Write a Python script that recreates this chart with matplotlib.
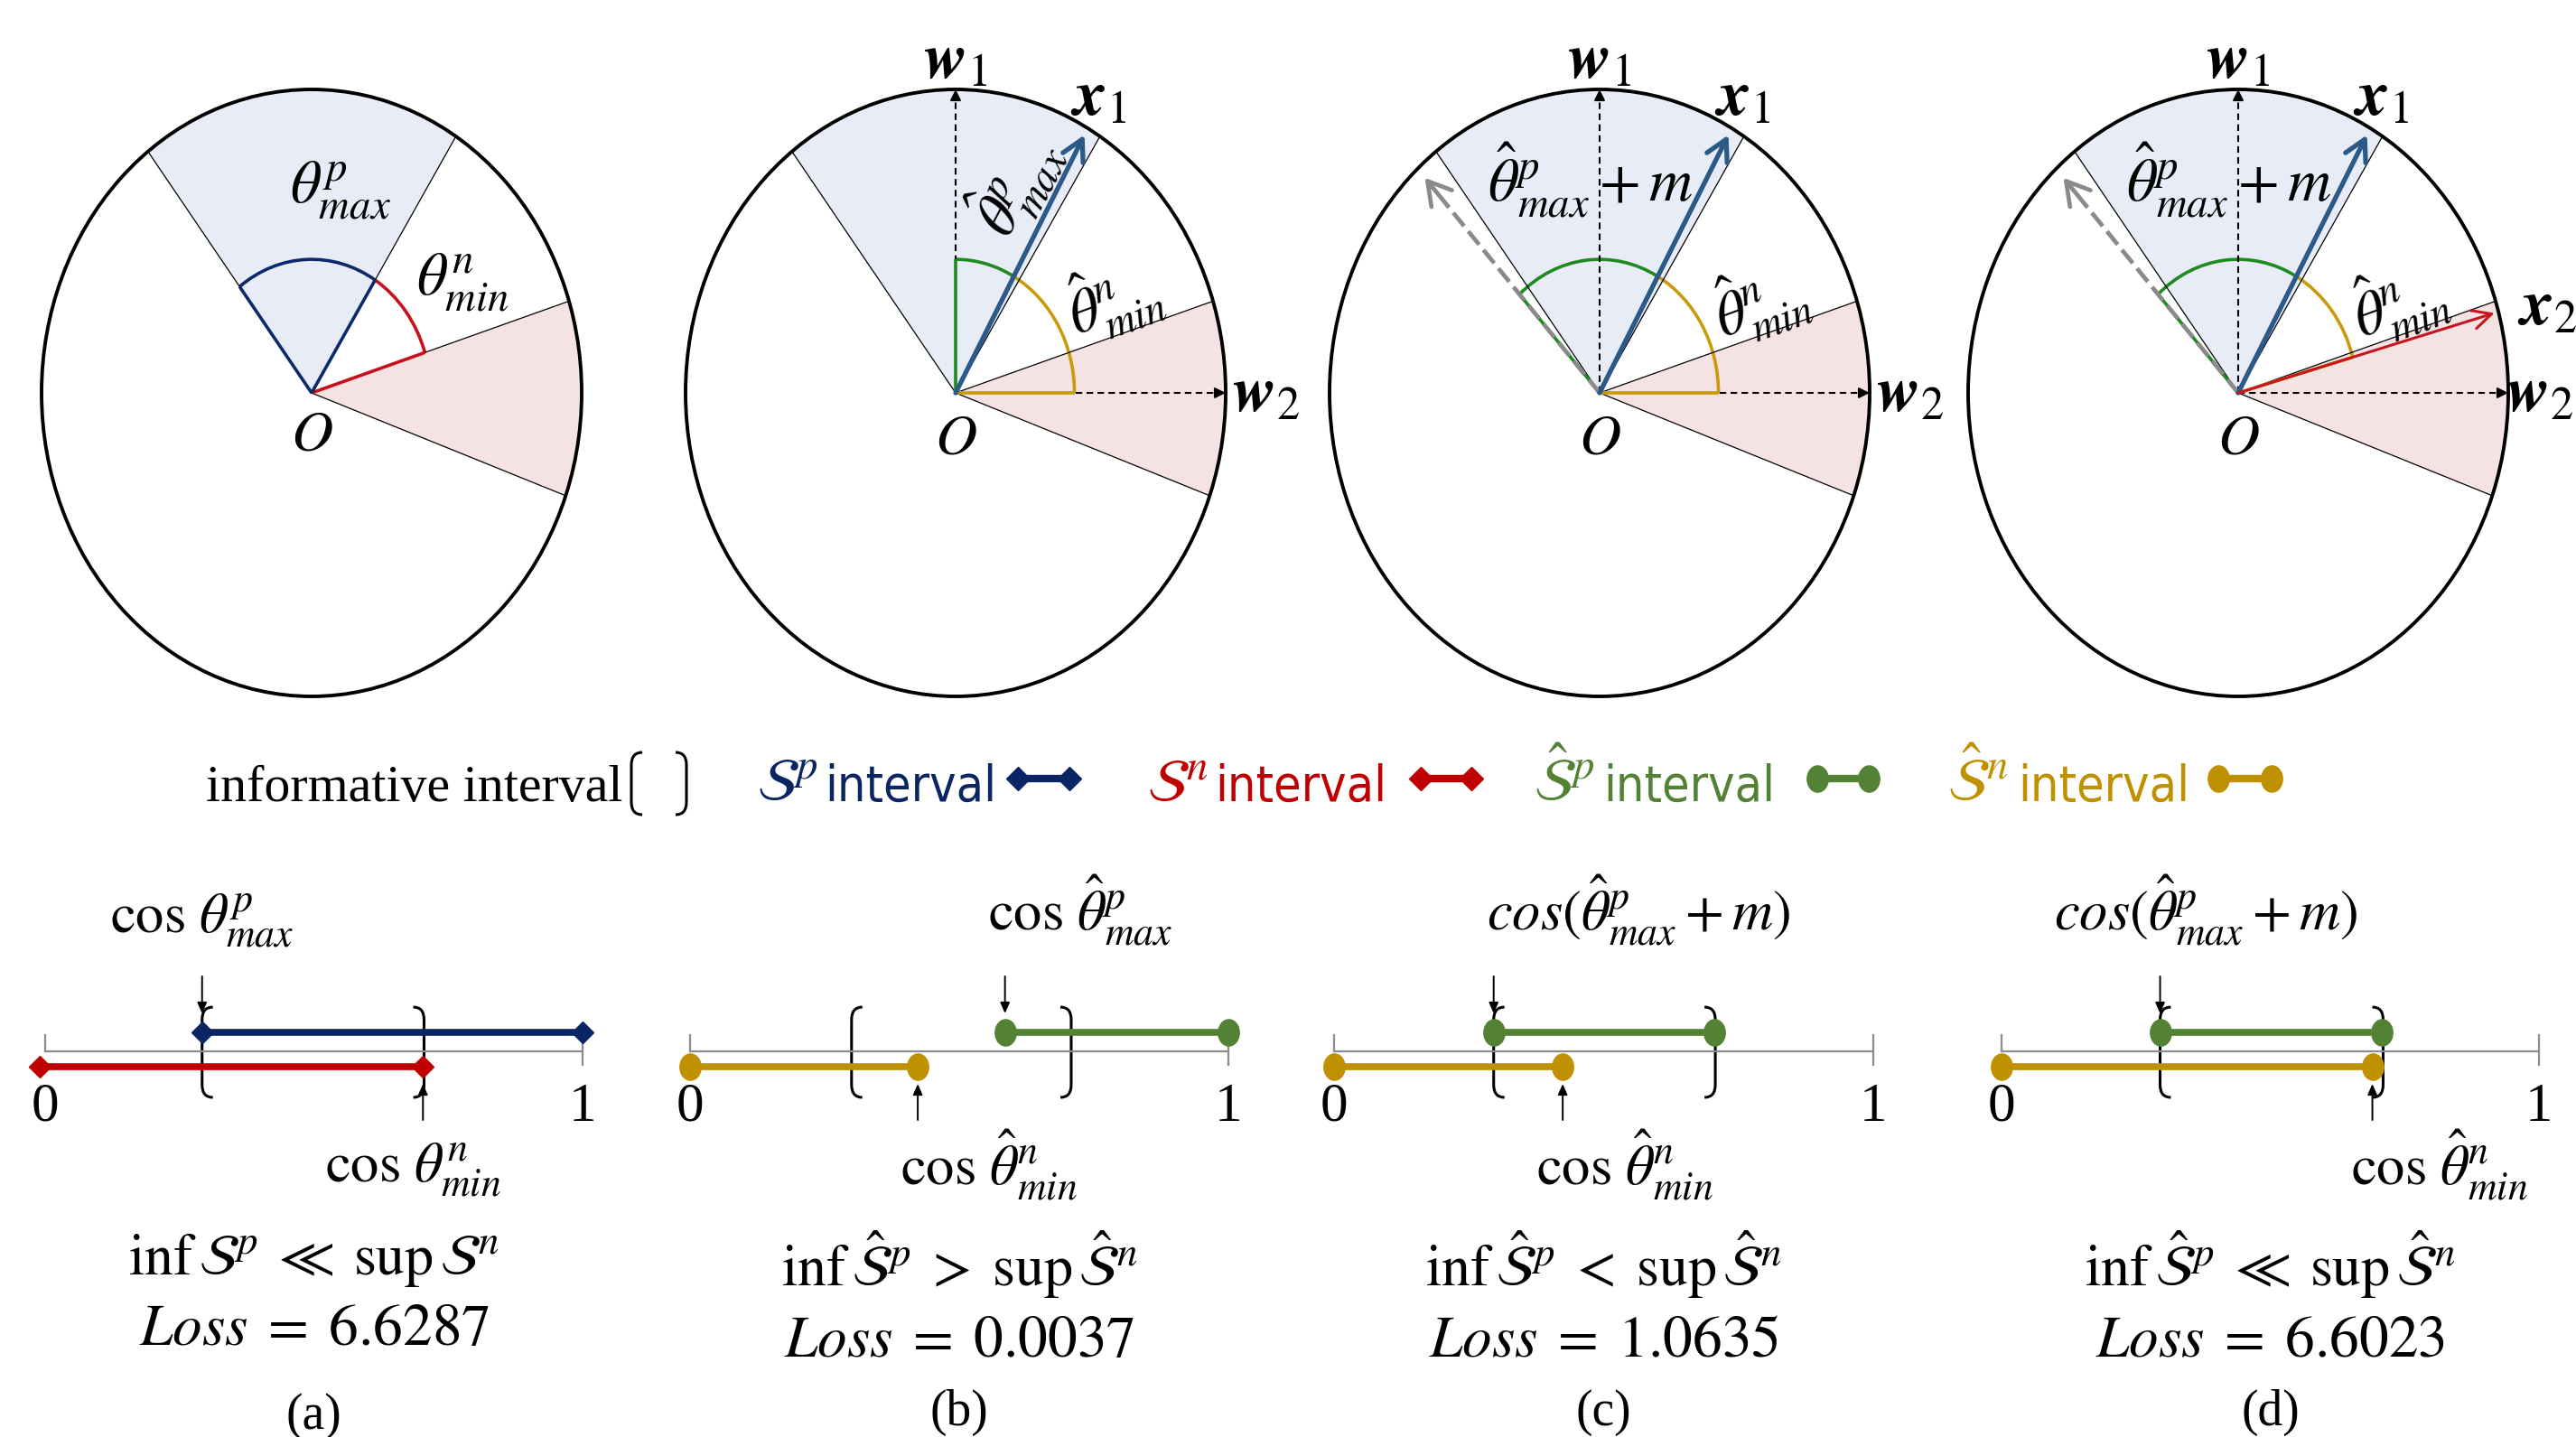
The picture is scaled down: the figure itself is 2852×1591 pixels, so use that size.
import os
import numpy as np
import matplotlib
matplotlib.use('Agg')
import matplotlib.pyplot as plt
from matplotlib import patches
from matplotlib import font_manager as fm
from matplotlib.path import Path
from matplotlib.transforms import Affine2D
from matplotlib.mathtext import MathTextParser

plt.rcParams['mathtext.fontset'] = 'stix'
plt.rcParams['font.family'] = ['Liberation Serif', 'DejaVu Serif']

W, H, DPI = 2852, 1591, 100

# colours
NAVY, RED, GREEN, GOLD = '#0B2463', '#C00000', '#548235', '#BF9000'
ARC_NAVY, ARC_RED, ARC_GREEN, ARC_GOLD = '#0B2A6A', '#C8101A', '#1F8A1F', '#C99A0A'
X1_BLUE, X2_RED, GRAY = '#2B5A88', '#C8141E', '#8A8A8A'
FILL_POS, FILL_NEG = '#E8ECF7', '#F5E3E3'
AXIS_GRAY = '#8C8C8C'
SERIF = ['Liberation Serif', 'DejaVu Serif']

# ---------------- data ----------------
panel_tags = ['(a)', '(b)', '(c)', '(d)']

# directions on the unit hypersphere (degrees)
pos_sector = (57.7, 127.3)      # positive-similarity region
neg_sector = (-19.8, 17.6)      # negative-similarity region
w1_angle, w2_angle = 90.0, 0.0
x1_angle = 60.7
x2_angle = 15.5
margin_angle = 132.4            # theta_max + m direction
show_vectors = [False, True, True, True]
show_margin = [False, False, True, True]
show_x2 = [False, False, False, True]

# similarity intervals on [0, 1]
pos_lo = [0.292, 0.585, 0.296, 0.295]
pos_hi = [1.0, 1.0, 0.706, 0.708]
neg_lo = [-0.01, 0.0, 0.0, 0.0]
neg_hi = [0.703, 0.423, 0.424, 0.690]
info_lo = [0.292, 0.300, 0.296, 0.295]
info_hi = [0.705, 0.708, 0.707, 0.710]
losses = [6.6287, 0.0037, 1.0635, 6.6023]
relations = [r'\ll', '>', '<', r'\ll']
axis_ticks = [0, 1]

legend_symbols = [r'$\mathcal{S}^{p}$', r'$\mathcal{S}^{n}$',
                  r'$\hat{\mathcal{S}}^{p}$', r'$\hat{\mathcal{S}}^{n}$']
legend_colors = [NAVY, RED, GREEN, GOLD]

# ---------------- layout (pixels) ----------------
circle_cx = [345, 1058, 1771, 2478]
circle_cy = 435
RX, RY = 299, 336
R_ARC = 0.44

line_left = [50, 764, 1477, 2216]
line_right = [645, 1360, 2074, 2811]
line_y = 1164
above_x = [0.292, 0.725, 0.565, 0.38]
above_y = [131, 134, 134, 134]
below_x = [0.685, 0.555, 0.54, 0.815]
below_y = [-145, -148, -148, -148]
rel_y = [-247, -260, -260, -260]
loss_y = [-325, -338, -338, -338]
tag_y = [-404, -400, -400, -400]


def _bold_italic_cmd():
    try:
        MathTextParser('path').parse(r'$\mathbfit{w}$')
        return r'\mathbfit'
    except Exception:
        return r'\mathbf'


def _narrow_sans():
    choices = [('Liberation Sans Narrow', 'normal'), ('DejaVu Sans', 'condensed'),
               ('Roboto Condensed', 'normal'), ('Open Sans', 'condensed')]
    for fam, stretch in choices:
        try:
            path = fm.findfont(fm.FontProperties(family=fam, stretch=stretch),
                               fallback_to_default=False)
        except Exception:
            continue
        name = os.path.basename(path).lower()
        if stretch == 'normal' or 'condensed' in name or 'narrow' in name:
            return dict(family=fam, fontstretch=stretch)
    return dict(family=['Roboto', 'DejaVu Sans'])


BFIT = _bold_italic_cmd()
NARROW_FONT = _narrow_sans()

fig = plt.figure(figsize=(W / DPI, H / DPI), dpi=DPI, facecolor='white')
renderer = fig.canvas.get_renderer()


def fit_width(txt, target_px):
    """Scale a text's font size so that it spans the given width in pixels."""
    w = txt.get_window_extent(renderer).width
    if w > 0:
        txt.set_fontsize(txt.get_fontsize() * target_px / w)


def px_axes(x0, y0, x1, y1):
    ax = fig.add_axes([x0 / W, 1 - y1 / H, (x1 - x0) / W, (y1 - y0) / H])
    ax.set_axis_off()
    ax.patch.set_visible(False)
    return ax


def polar(a, r=1.0):
    t = np.deg2rad(a)
    return r * np.cos(t), r * np.sin(t)


def arrow(ax, start, end, color, lw, style, ms):
    ax.annotate('', xy=end, xytext=start, annotation_clip=False,
                arrowprops=dict(arrowstyle=style, color=color, lw=lw,
                                shrinkA=0, shrinkB=0, mutation_scale=ms))


def dashed_vector(ax, ang, color, lw, dashes, style, ms, r=1.0, head=0.035):
    xb, yb = polar(ang, r - head)
    ax.plot([0, xb], [0, yb], color=color, lw=lw, dashes=dashes, clip_on=False)
    arrow(ax, (xb, yb), polar(ang, r), color, lw, style, ms)


def angle_mark(ax, a0, a1, color, radials, lw=2.6):
    ax.add_patch(patches.Arc((0, 0), 2 * R_ARC, 2 * R_ARC, theta1=a0, theta2=a1,
                             color=color, lw=lw, clip_on=False))
    for a in radials:
        x, y = polar(a, R_ARC)
        ax.plot([0, x], [0, y], color=color, lw=lw, clip_on=False,
                solid_capstyle='butt')


def bracket(ax, x, y_top, y_bot, hook_w, hook_h, side, lw=2.2, color='black'):
    s = 1 if side == 'left' else -1
    d = hook_h if y_top > y_bot else -hook_h
    verts = [(x + s * hook_w, y_top), (x, y_top), (x, y_top - d),
             (x, y_bot + d), (x, y_bot), (x + s * hook_w, y_bot)]
    codes = [Path.MOVETO, Path.CURVE3, Path.CURVE3,
             Path.LINETO, Path.CURVE3, Path.CURVE3]
    ax.add_patch(patches.PathPatch(Path(verts, codes), fill=False, lw=lw,
                                   edgecolor=color, clip_on=False))


def vec_label(sym, idx):
    return r'$%s{%s}_{%s}$' % (BFIT, sym, idx)


def draw_circle(i):
    cx = circle_cx[i]
    ax = px_axes(cx - RX, circle_cy - RY, cx + RX, circle_cy + RY)
    ax.set_xlim(-1, 1)
    ax.set_ylim(-1, 1)
    ax.add_patch(patches.Wedge((0, 0), 1, *pos_sector, fc=FILL_POS, ec='none'))
    ax.add_patch(patches.Wedge((0, 0), 1, *neg_sector, fc=FILL_NEG, ec='none'))
    for a in pos_sector + neg_sector:
        x, y = polar(a)
        ax.plot([0, x], [0, y], color='black', lw=0.9, clip_on=False)
    ax.add_patch(patches.Ellipse((0, 0), 2, 2, fill=False, ec='black', lw=2.8,
                                 clip_on=False))
    fs = 48
    if not show_vectors[i]:
        angle_mark(ax, neg_sector[1], pos_sector[0], ARC_RED, [neg_sector[1]])
        angle_mark(ax, pos_sector[0], pos_sector[1], ARC_NAVY, pos_sector)
        ax.text(0.107, 0.666, r'$\theta^{p}_{max}$', fontsize=fs, ha='center', va='center')
        ax.text(0.56, 0.364, r'$\theta^{n}_{min}$', fontsize=fs, ha='center', va='center')
        ax.text(0.0, -0.145, r'$O$', fontsize=46, ha='center', va='center')
        return

    dashed_vector(ax, w1_angle, 'black', 1.5, (3.5, 2.3), '-|>,head_length=0.5,head_width=0.25', 14)
    dashed_vector(ax, w2_angle, 'black', 1.5, (3.5, 2.3), '-|>,head_length=0.5,head_width=0.25', 14)

    if show_margin[i]:
        angle_mark(ax, x1_angle, margin_angle, ARC_GREEN, [margin_angle])
    else:
        angle_mark(ax, x1_angle, w1_angle, ARC_GREEN, [w1_angle])
    n_edge = x2_angle if show_x2[i] else w2_angle
    angle_mark(ax, n_edge, x1_angle, ARC_GOLD, [n_edge])

    if show_margin[i]:
        dashed_vector(ax, margin_angle, GRAY, 3.4, (4, 1.6),
                      '->,head_length=0.6,head_width=0.35', 30, r=0.96, head=0.09)
    arrow(ax, (0, 0), polar(x1_angle, 0.975), X1_BLUE, 3.8,
          '->,head_length=0.55,head_width=0.3', 30)
    if show_x2[i]:
        arrow(ax, (0, 0), polar(x2_angle, 0.985), X2_RED, 2.2,
              '->,head_length=0.5,head_width=0.25', 30)

    fsv = 52
    ax.text(0.0, 1.09, vec_label('w', '1'), fontsize=fsv, ha='center', va='center')
    ax.text(0.53, 0.968, vec_label('x', '1'), fontsize=fsv, ha='center', va='center')
    # keep the right-hand vector label inside the canvas
    w2_x = min(1.15, (W - 4 - cx) / RX - 0.12)
    ax.text(w2_x, -0.01, vec_label('w', '2'), fontsize=fsv, ha='center', va='center')
    if show_x2[i]:
        ax.text(1.145, 0.277, vec_label('x', '2'), fontsize=fsv, ha='center', va='center')
    ax.text(0.0, -0.156, r'$O$', fontsize=46, ha='center', va='center')

    if show_margin[i]:
        ax.text(-0.035, 0.70, r'$\hat{\theta}^{p}_{max} + m$', fontsize=fs,
                ha='center', va='center')
        ax.text(0.593, 0.298, r'$\hat{\theta}^{n}_{min}$', fontsize=fs, rotation=20,
                ha='center', va='center', rotation_mode='anchor')
    else:
        ax.text(0.215, 0.685, r'$\hat{\theta}^{p}_{max}$', fontsize=fs, rotation=62,
                ha='center', va='center', rotation_mode='anchor')
        ax.text(0.584, 0.307, r'$\hat{\theta}^{n}_{min}$', fontsize=fs, rotation=20,
                ha='center', va='center', rotation_mode='anchor')


# elliptical end caps for the hat-interval bars
DOT = Path.unit_circle().transformed(Affine2D().scale(0.8, 1.0))


def draw_number_line(i):
    ax = px_axes(line_left[i], 980, line_right[i], H)
    ax.set_xlim(0, 1)
    ax.set_ylim(line_y - H, line_y - 980)
    ax.plot([0, 1], [0, 0], color=AXIS_GRAY, lw=1.6, clip_on=False)
    ax.plot([0, 0], [0, 18], color=AXIS_GRAY, lw=1.6, clip_on=False)
    ax.plot([1, 1], [-15, 18], color=AXIS_GRAY, lw=1.6, clip_on=False)
    for t in axis_ticks:
        ax.text(t, -62, str(t), ha='center', va='center', fontsize=44, family=SERIF)

    if i == 0:
        pc, nc, mk, ms = NAVY, RED, 'D', 12
    else:
        pc, nc, mk, ms = GREEN, GOLD, DOT, 21
    ax.plot([pos_lo[i], pos_hi[i]], [21, 21], color=pc, lw=5.5, marker=mk, ms=ms,
            clip_on=False)
    ax.plot([neg_lo[i], neg_hi[i]], [-17, -17], color=nc, lw=5.5, marker=mk, ms=ms,
            clip_on=False)

    bracket(ax, info_lo[i], 49, -51, 0.02, 14, 'left')
    bracket(ax, info_hi[i], 49, -51, 0.02, 14, 'right')

    arrow(ax, (pos_lo[i], 83), (pos_lo[i], 42), 'black', 1.4,
          '-|>,head_length=0.5,head_width=0.22', 14)
    arrow(ax, (neg_hi[i], -76), (neg_hi[i], -36), 'black', 1.4,
          '-|>,head_length=0.5,head_width=0.22', 14)

    if i == 0:
        up_lbl, dn_lbl = r'$\cos\,\theta^{p}_{max}$', r'$\cos\,\theta^{n}_{min}$'
        S = r'\mathcal{S}'
    else:
        if show_margin[i]:
            up_lbl = r'$cos(\hat{\theta}^{p}_{max}+m)$'
        else:
            up_lbl = r'$\cos\,\hat{\theta}^{p}_{max}$'
        dn_lbl = r'$\cos\,\hat{\theta}^{n}_{min}$'
        S = r'\hat{\mathcal{S}}'
    ax.text(above_x[i], above_y[i], up_lbl, fontsize=45, ha='center', va='baseline')
    ax.text(below_x[i], below_y[i], dn_lbl, fontsize=45, ha='center', va='baseline')

    rel = r'$\mathrm{inf}\,%s^{p}\;%s\;\mathrm{sup}\,%s^{n}$' % (S, relations[i], S)
    ax.text(0.5, rel_y[i], rel, fontsize=46, ha='center', va='baseline')
    ax.text(0.5, loss_y[i], r'$Loss\;=\;%.4f$' % losses[i], fontsize=47,
            ha='center', va='baseline')
    ax.text(0.5, tag_y[i], panel_tags[i], fontsize=40, ha='center', va='center',
            family=SERIF)


for k in range(4):
    draw_circle(k)
    draw_number_line(k)

# ---------------- legend row ----------------
bg = px_axes(0, 0, W, H)
bg.set_xlim(0, W)
bg.set_ylim(H, 0)
base = 887
info_txt = bg.text(689, base, 'informative interval', ha='right', va='baseline',
                   fontsize=43, family=SERIF)
fit_width(info_txt, 462)
bracket(bg, 699, 833, 902, 12, 14, 'left')
bracket(bg, 760, 833, 902, 12, 14, 'right')

sym_x = [838, 1270, 1698, 2156]
word_x = [913, 1345, 1775, 2234]
key_x = [(1127, 1184), (1573, 1629), (2012, 2069), (2456, 2515)]
key_mk = ['D', 'D', DOT, DOT]
key_ms = [13, 13, 21, 21]
for sym, col, sx, wx, kx, mk, ms in zip(legend_symbols, legend_colors, sym_x, word_x,
                                        key_x, key_mk, key_ms):
    bg.text(sx, base, sym, color=col, fontsize=48, ha='left', va='baseline')
    word = bg.text(wx, base, 'interval', color=col, fontsize=47, ha='left',
                   va='baseline', **NARROW_FONT)
    fit_width(word, 190)
    bg.plot(list(kx), [862, 862], color=col, lw=6, marker=mk, ms=ms, clip_on=False)

fig.savefig('out.png', dpi=DPI, facecolor='white')
